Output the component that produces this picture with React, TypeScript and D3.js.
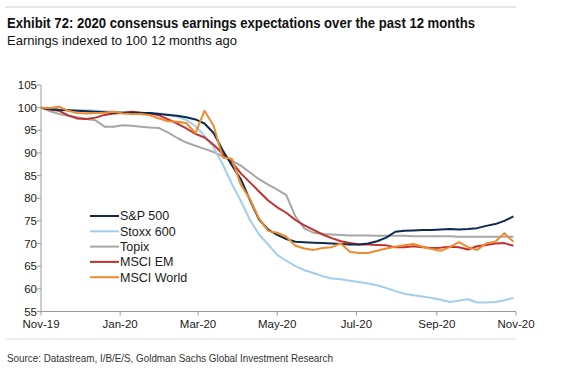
import React from "react";
import * as d3 from "d3";

const START = new Date(2019, 10, 1);
const weekDates: Date[] = d3.range(53).map((i) => d3.timeDay.offset(START, i * 7));

const sp500 = [100, 99.7, 99.5, 99.4, 99.3, 99.2, 99.1, 99.0, 98.9, 98.9, 98.9, 98.8, 98.8, 98.6, 98.4, 98.2, 97.9, 97.4, 96.5, 94.4, 90.6, 87.3, 84.2, 79.6, 75.3, 73.1, 71.9, 71.0, 70.4, 70.3, 70.2, 70.1, 70.0, 69.9, 69.8, 69.8, 70.0, 70.5, 71.3, 72.6, 72.8, 72.9, 73.0, 73.0, 73.1, 73.2, 73.1, 73.2, 73.4, 73.9, 74.3, 75.0, 76.0];
const stoxx600 = [100, 99.8, 99.6, 99.5, 99.4, 99.4, 99.3, 99.2, 99.1, 99.0, 99.0, 98.9, 98.8, 98.7, 98.5, 98.0, 97.3, 95.9, 93.8, 91.2, 87.5, 83.2, 79.4, 75.2, 72.0, 69.8, 67.5, 66.2, 65.0, 64.1, 63.5, 62.8, 62.3, 62.1, 61.8, 61.5, 61.2, 60.8, 60.2, 59.5, 58.9, 58.6, 58.3, 58.0, 57.6, 57.1, 57.4, 57.7, 57.0, 57.0, 57.1, 57.5, 58.0];
const topix = [100, 99.2, 98.6, 98.2, 97.9, 97.5, 97.2, 95.8, 95.8, 96.1, 96.0, 95.8, 95.6, 95.5, 94.5, 93.3, 92.3, 91.6, 90.9, 90.2, 89.3, 88.3, 87.2, 85.7, 84.2, 83.0, 81.9, 80.7, 76.0, 73.3, 72.4, 72.1, 72.0, 71.9, 71.8, 71.8, 71.8, 71.7, 71.7, 71.7, 71.7, 71.6, 71.6, 71.6, 71.6, 71.6, 71.5, 71.5, 71.5, 71.5, 71.5, 71.5, 71.5];
const msciEM = [100, 99.6, 99.3, 98.3, 97.6, 97.5, 97.8, 98.4, 98.7, 98.8, 99.1, 98.9, 98.7, 98.3, 97.4, 96.5, 95.4, 94.2, 93.4, 91.8, 89.8, 88.0, 85.5, 83.5, 81.5, 79.5, 78.0, 76.8, 75.2, 74.0, 73.0, 72.0, 71.2, 70.5, 70.1, 69.8, 69.8, 69.7, 69.6, 69.2, 69.2, 69.4, 69.2, 69.0, 69.1, 69.3, 69.2, 68.7, 69.4, 69.7, 70.0, 70.1, 69.5];
const msciWorld = [100, 99.9, 100.2, 99.3, 98.8, 98.7, 98.8, 98.9, 99.1, 98.7, 98.6, 98.6, 98.3, 97.6, 97.0, 96.9, 96.6, 94.4, 99.3, 96.0, 89.0, 88.7, 83.0, 79.8, 75.5, 72.8, 72.4, 71.5, 69.5, 68.9, 68.6, 69.0, 69.2, 70.0, 68.2, 67.9, 67.9, 68.4, 68.9, 69.3, 69.6, 69.9, 69.3, 68.8, 68.4, 69.2, 70.3, 69.2, 68.6, 70.0, 70.4, 72.3, 70.4];

const seriesNames = ["S&P 500", "Stoxx 600", "Topix", "MSCI EM", "MSCI World"];
const seriesValues = [sp500, stoxx600, topix, msciEM, msciWorld];
const seriesColors = ["#0e2a4f", "#a3cdec", "#a6a6a6", "#c0312f", "#f08a2c"];

const yTicks = [55, 60, 65, 70, 75, 80, 85, 90, 95, 100, 105];
const xTickDates = [
  new Date(2019, 10, 1), new Date(2020, 0, 1), new Date(2020, 2, 1), new Date(2020, 4, 1),
  new Date(2020, 6, 1), new Date(2020, 8, 1), new Date(2020, 10, 1),
];
const xTickLabels = ["Nov-19", "Jan-20", "Mar-20", "May-20", "Jul-20", "Sep-20", "Nov-20"];

const W = 564;
const H = 370;
const plot = { left: 41, right: 516, top: 85, bottom: 311.5 };
const font = "'Liberation Sans', Arial, Helvetica, sans-serif";

export default function App() {
  const x = d3.scaleTime().domain([xTickDates[0], xTickDates[6]]).range([plot.left, plot.right]);
  const y = d3.scaleLinear().domain([55, 105]).range([plot.bottom, plot.top]);
  const line = d3
    .line<number>()
    .x((_, i) => x(weekDates[i]))
    .y((v) => y(v));

  const drawOrder = [2, 1, 3, 0, 4];

  return (
    <svg width={W} height={H} style={{ position: "absolute", left: 0, top: 0 }}>
      <rect width={W} height={H} fill="#fff" />
      <line x1={5} x2={516} y1={7} y2={7} stroke="#cfcfcf" strokeWidth={1} />
      <text x={7} y={28} fontFamily={font} fontWeight="bold" fontSize={14} fill="#111" textLength={468} lengthAdjust="spacingAndGlyphs">
        Exhibit 72: 2020 consensus earnings expectations over the past 12 months
      </text>
      <text x={7} y={45} fontFamily={font} fontSize={13.5} fill="#111" textLength={230} lengthAdjust="spacingAndGlyphs">
        Earnings indexed to 100 12 months ago
      </text>

      {/* axes */}
      <line x1={plot.left} x2={plot.left} y1={plot.top} y2={plot.bottom} stroke="#9a9a9a" />
      <line x1={plot.left} x2={plot.right} y1={plot.bottom} y2={plot.bottom} stroke="#9a9a9a" />
      {yTicks.map((t) => (
        <g key={t}>
          <line x1={plot.left - 4} x2={plot.left} y1={y(t)} y2={y(t)} stroke="#9a9a9a" />
          <text x={37} y={y(t)} dy="0.35em" textAnchor="end" fontFamily={font} fontSize={11.5} fill="#1a1a1a">
            {t}
          </text>
        </g>
      ))}
      {xTickDates.map((d, i) => (
        <g key={i}>
          <line x1={x(d)} x2={x(d)} y1={plot.bottom} y2={plot.bottom + 4} stroke="#9a9a9a" />
          <text x={x(d)} y={328} textAnchor="middle" fontFamily={font} fontSize={11.5} fill="#1a1a1a">
            {xTickLabels[i]}
          </text>
        </g>
      ))}

      {/* lines */}
      {drawOrder.map((k) => (
        <path key={k} d={line(seriesValues[k]) || ""} fill="none" stroke={seriesColors[k]} strokeWidth={2} strokeLinejoin="round" />
      ))}

      {/* legend */}
      {seriesNames.map((n, i) => (
        <g key={n} transform={`translate(90, ${216 + i * 15.3})`}>
          <line x1={0} x2={29} y1={0} y2={0} stroke={seriesColors[i]} strokeWidth={2} />
          <text x={30} y={0} dy="0.35em" fontFamily={font} fontSize={12.5} fill="#1a1a1a">
            {n}
          </text>
        </g>
      ))}

      <line x1={5} x2={516} y1={339} y2={339} stroke="#dcdcdc" strokeWidth={1} />
      <text x={7} y={362} fontFamily={font} fontSize={11} fill="#333" textLength={326} lengthAdjust="spacingAndGlyphs">
        Source: Datastream, I/B/E/S, Goldman Sachs Global Investment Research
      </text>
    </svg>
  );
}
